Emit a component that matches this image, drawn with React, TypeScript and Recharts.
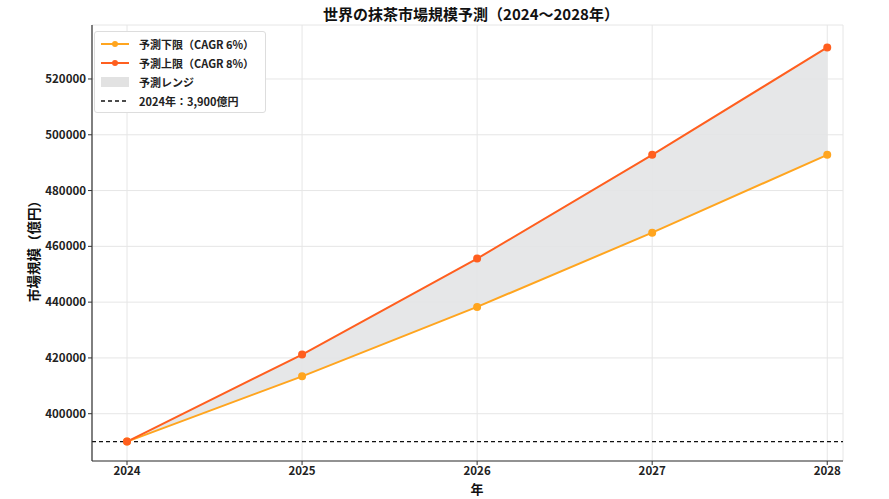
import { ComposedChart, Line, Area, XAxis, YAxis, CartesianGrid, ReferenceLine } from "recharts";

const years = [2024, 2025, 2026, 2027, 2028];
const lowerValues = [390000, 413400, 438300, 464900, 492800];
const upperValues = [390000, 421200, 455600, 492800, 531300];
const baseValue = 390000;
const yTicks = [400000, 420000, 440000, 460000, 480000, 500000, 520000];

const data = years.map((year, i) => ({
  year,
  lower: lowerValues[i],
  upper: upperValues[i],
  range: [lowerValues[i], upperValues[i]],
}));

const font = "'Noto Sans CJK JP', 'Noto Sans', sans-serif";
const LOWER = "#ffa51f";
const UPPER = "#ff5f1f";

function LegendBox() {
  const row = { display: "flex", alignItems: "center", height: 19 } as const;
  const text = { marginLeft: 10, fontSize: 11, fontWeight: 600, color: "#222" } as const;
  const lineKey = (color: string) => (
    <svg width={28} height={10}>
      <line x1={0} y1={5} x2={28} y2={5} stroke={color} strokeWidth={2} />
      <circle cx={14} cy={5} r={3} fill={color} />
    </svg>
  );
  return (
    <div
      style={{
        position: "absolute",
        left: 94,
        top: 31,
        fontFamily: font,
        background: "white",
        border: "1px solid #ddd",
        borderRadius: 3,
        padding: "2px 8px 2px 6px",
        width: 156,
      }}
    >
      <div style={row}>{lineKey(LOWER)}<span style={text}>予測下限（CAGR 6%）</span></div>
      <div style={row}>{lineKey(UPPER)}<span style={text}>予測上限（CAGR 8%）</span></div>
      <div style={row}>
        <svg width={28} height={10}><rect x={0} y={0} width={28} height={10} fill="#e2e2e2" /></svg>
        <span style={text}>予測レンジ</span>
      </div>
      <div style={row}>
        <svg width={28} height={10}>
          <line x1={0} y1={5} x2={28} y2={5} stroke="#111" strokeWidth={1.4} strokeDasharray="4 3" />
        </svg>
        <span style={text}>2024年：3,900億円</span>
      </div>
    </div>
  );
}

export default function App() {
  return (
    <div style={{ position: "absolute", left: 0, top: 0, width: 889, height: 499, background: "white", fontFamily: font }}>
      <div
        style={{
          position: "absolute",
          top: 3,
          left: 0,
          width: 942,
          textAlign: "center",
          fontSize: 15,
          fontWeight: 700,
          color: "#111",
        }}
      >
        世界の抹茶市場規模予測（2024～2028年）
      </div>
      <div
        style={{
          position: "absolute",
          left: 33,
          top: 248,
          transform: "translate(-50%, -50%) rotate(-90deg)",
          whiteSpace: "nowrap",
          fontSize: 13.5,
          fontWeight: 700,
          color: "#111",
        }}
      >
        市場規模（億円）
      </div>
      <div
        style={{
          position: "absolute",
          left: 477,
          top: 488,
          transform: "translate(-50%, -50%)",
          fontSize: 13,
          fontWeight: 700,
          color: "#111",
        }}
      >
        年
      </div>
      <ComposedChart
        width={889}
        height={499}
        data={data}
        margin={{ top: 25, right: 46, left: 32, bottom: 18 }}
      >
        <CartesianGrid stroke="#e6e6e6" strokeWidth={1} />
        <XAxis
          type="number"
          dataKey="year"
          domain={[2023.8, 2028.09]}
          ticks={years}
          allowDataOverflow
          height={20}
          tick={{ fontSize: 11.5, fontWeight: 600, fill: "#222", fontFamily: font }}
          tickSize={4}
          axisLine={{ stroke: "#333", strokeWidth: 1.2 }}
          tickLine={{ stroke: "#333" }}
        />
        <YAxis
          type="number"
          domain={[383050, 539350]}
          ticks={yTicks}
          allowDataOverflow
          width={60}
          tick={{ fontSize: 11.5, fontWeight: 600, fill: "#222", fontFamily: font }}
          tickSize={4}
          axisLine={{ stroke: "#333", strokeWidth: 1.2 }}
          tickLine={{ stroke: "#333" }}
        />
        <Area
          dataKey="range"
          stroke="none"
          fill="#e3e4e6"
          fillOpacity={0.9}
          isAnimationActive={false}
          activeDot={false}
        />
        <ReferenceLine y={baseValue} stroke="#111" strokeWidth={1.3} strokeDasharray="4 3" />
        <Line
          dataKey="lower"
          stroke={LOWER}
          strokeWidth={2}
          dot={{ r: 3, fill: LOWER, stroke: LOWER }}
          isAnimationActive={false}
        />
        <Line
          dataKey="upper"
          stroke={UPPER}
          strokeWidth={2}
          dot={{ r: 3, fill: UPPER, stroke: UPPER }}
          isAnimationActive={false}
        />
      </ComposedChart>
      <LegendBox />
    </div>
  );
}
